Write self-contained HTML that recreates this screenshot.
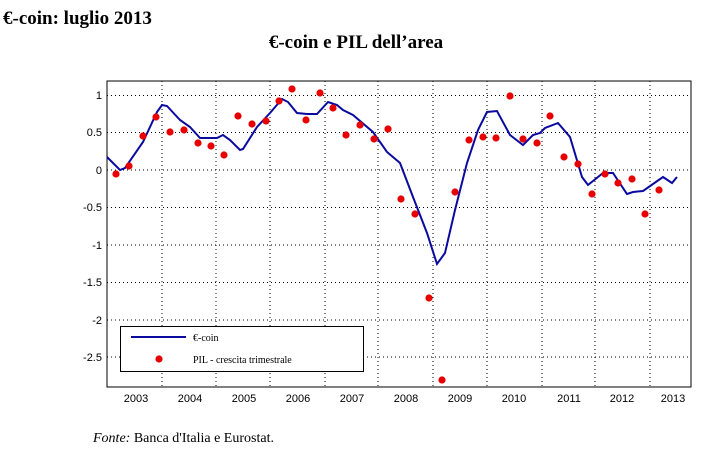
<!DOCTYPE html>
<html><head><meta charset="utf-8"><style>body{margin:0;background:#fff}svg{display:block}</style></head><body>
<svg width="714" height="451" xmlns="http://www.w3.org/2000/svg" font-family="Liberation Serif, serif">
<text x="3" y="24" font-size="19" font-weight="bold">€-coin: luglio 2013</text>
<text x="356" y="48" font-size="19" font-weight="bold" text-anchor="middle">€-coin e PIL dell’area</text>
<g stroke="#000" stroke-width="1" stroke-dasharray="1,3">
<line x1="162" y1="81" x2="162" y2="387"/><line x1="216" y1="81" x2="216" y2="387"/><line x1="270" y1="81" x2="270" y2="387"/><line x1="325" y1="81" x2="325" y2="387"/><line x1="378" y1="81" x2="378" y2="387"/><line x1="433" y1="81" x2="433" y2="387"/><line x1="487" y1="81" x2="487" y2="387"/><line x1="542" y1="81" x2="542" y2="387"/><line x1="595" y1="81" x2="595" y2="387"/><line x1="650" y1="81" x2="650" y2="387"/>
<line x1="107" y1="95.5" x2="691" y2="95.5"/><line x1="107" y1="132.5" x2="691" y2="132.5"/><line x1="107" y1="170" x2="691" y2="170"/><line x1="107" y1="207.5" x2="691" y2="207.5"/><line x1="107" y1="245" x2="691" y2="245"/><line x1="107" y1="282.5" x2="691" y2="282.5"/><line x1="107" y1="320" x2="691" y2="320"/><line x1="107" y1="357" x2="691" y2="357"/>
</g>
<rect x="107" y="81" width="584" height="306" fill="none" stroke="#000"/>
<g font-family="Liberation Sans, sans-serif" font-size="11" text-anchor="end">
<text x="102" y="99">1</text><text x="102" y="136">0.5</text><text x="102" y="174">0</text><text x="102" y="211">-0.5</text><text x="102" y="249">-1</text><text x="102" y="286">-1.5</text><text x="102" y="324">-2</text><text x="102" y="361">-2.5</text>
</g>
<g font-family="Liberation Sans, sans-serif" font-size="11" text-anchor="middle">
<text x="136" y="402">2003</text><text x="190" y="402">2004</text><text x="244" y="402">2005</text><text x="298" y="402">2006</text><text x="352" y="402">2007</text><text x="406" y="402">2008</text><text x="460" y="402">2009</text><text x="514" y="402">2010</text><text x="569" y="402">2011</text><text x="622" y="402">2012</text><text x="673" y="402">2013</text>
</g>
<polyline fill="none" stroke="#0a0aa0" stroke-width="2" points="107,157 120,170 125,168 143,142 157,112 162,105 167,106 180,120 190,127 200,138 210,138 217,138 223,135 230,140 240,150 243,149 257,127 270,113 282,99 288,102 297,113 307,114 317,114 328,102 337,105 343,110 353,115 373,132 387,152 400,163 413,197 427,233 437,264 445,253 455,210 467,163 478,130 487,112 497,111 510,135 523,145 533,135 540,133 545,128 558,123 570,137 582,177 588,185 603,173 613,173 627,194 633,192 643,191 663,177 672,183 677,177"/>
<g fill="#e80000">
<circle cx="116" cy="174" r="3.6"/><circle cx="129" cy="166" r="3.6"/><circle cx="143" cy="136" r="3.6"/><circle cx="156" cy="117" r="3.6"/><circle cx="170" cy="132" r="3.6"/><circle cx="184" cy="130" r="3.6"/><circle cx="198" cy="143" r="3.6"/><circle cx="211" cy="146" r="3.6"/><circle cx="224" cy="155" r="3.6"/><circle cx="238" cy="116" r="3.6"/><circle cx="252" cy="124" r="3.6"/><circle cx="266" cy="121" r="3.6"/><circle cx="279" cy="101" r="3.6"/><circle cx="292" cy="89" r="3.6"/><circle cx="306" cy="120" r="3.6"/><circle cx="320" cy="93" r="3.6"/><circle cx="333" cy="108" r="3.6"/><circle cx="346" cy="135" r="3.6"/><circle cx="360" cy="125" r="3.6"/><circle cx="374" cy="139" r="3.6"/><circle cx="388" cy="129" r="3.6"/><circle cx="401" cy="199" r="3.6"/><circle cx="415" cy="214" r="3.6"/><circle cx="429" cy="298" r="3.6"/><circle cx="442" cy="380" r="3.6"/><circle cx="455" cy="192" r="3.6"/><circle cx="469" cy="140" r="3.6"/><circle cx="483" cy="137" r="3.6"/><circle cx="496" cy="138" r="3.6"/><circle cx="510" cy="96" r="3.6"/><circle cx="523" cy="139" r="3.6"/><circle cx="537" cy="143" r="3.6"/><circle cx="550" cy="116" r="3.6"/><circle cx="564" cy="157" r="3.6"/><circle cx="578" cy="164" r="3.6"/><circle cx="592" cy="194" r="3.6"/><circle cx="605" cy="174" r="3.6"/><circle cx="618" cy="183" r="3.6"/><circle cx="632" cy="179" r="3.6"/><circle cx="645" cy="214" r="3.6"/><circle cx="659" cy="190" r="3.6"/>
</g>
<rect x="120.5" y="326.5" width="243" height="45" fill="#fff" stroke="#000"/>
<line x1="131" y1="337" x2="186" y2="337" stroke="#0a0aa0" stroke-width="2"/>
<circle cx="159" cy="359" r="3.6" fill="#e80000"/>
<text x="193" y="341" font-size="10">€-coin</text>
<text x="193" y="363" font-size="10">PIL - crescita trimestrale</text>
<text x="93" y="442" font-size="14"><tspan font-style="italic">Fonte:</tspan> Banca d'Italia e Eurostat.</text>
</svg>
</body></html>
